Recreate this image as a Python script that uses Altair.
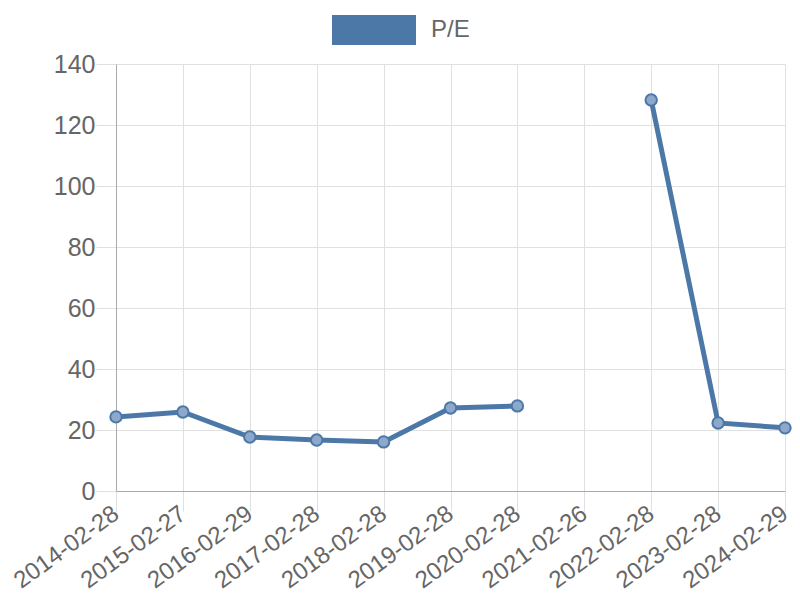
import altair as alt
import pandas as pd

dates = ["2014-02-28", "2015-02-27", "2016-02-29", "2017-02-28", "2018-02-28",
         "2019-02-28", "2020-02-28", "2021-02-26", "2022-02-28", "2023-02-28",
         "2024-02-29"]
pe = [24.3, 25.9, 17.7, 16.7, 16.1, 27.2, 27.9, None, 128.2, 22.3, 20.7]
series_name = "P/E"

seg = []
s = 0
for v in pe:
    if v is None:
        s += 1
    seg.append(s)

df = pd.DataFrame({"date": dates, "pe": pe, "seg": seg, "series": [series_name] * len(dates)})
df = df[df["pe"].notna()]

BLUE = "#4c78a8"
GRID = "#e0e0e0"
FONT = "Liberation Sans"

x_enc = alt.X("date:O", scale=alt.Scale(domain=dates, type="point", padding=0),
              axis=alt.Axis(title=None, labelAngle=-36, labelAlign="right", labelBaseline="middle",
                            labelFontSize=24, labelColor="#666", labelPadding=0, labelOffset=0,
                            grid=True, gridColor=GRID, tickColor=GRID, tickSize=20,
                            domainColor="#aaa", labelFont=FONT))
y_enc = alt.Y("pe:Q", scale=alt.Scale(domain=[0, 140], nice=False),
              axis=alt.Axis(title=None, values=[0, 20, 40, 60, 80, 100, 120, 140],
                            labelFontSize=25, labelColor="#666", labelPadding=1,
                            grid=True, gridColor=GRID, tickColor=GRID, tickSize=20,
                            domainColor="#aaa", labelFont=FONT))

line = alt.Chart(df).mark_line(strokeWidth=5).encode(
    x=x_enc, y=y_enc, detail="seg:N",
    color=alt.Color("series:N", scale=alt.Scale(range=[BLUE]),
                    legend=alt.Legend(title=None, orient="none", legendX=201, legendY=-91,
                                      symbolType="stroke", symbolSize=7056,
                                      symbolStrokeWidth=30, symbolOpacity=1,
                                      labelFontSize=24, labelColor="#666",
                                      labelFont=FONT, labelOffset=0,
                                      padding=0)),
)
points = alt.Chart(df).mark_point(shape="circle", filled=True, fill="#8ea8cb", stroke=BLUE,
                                  strokeWidth=2, size=130, opacity=1).encode(x=x_enc, y=y_enc)

chart = alt.layer(line, points).properties(
    width=669, height=427,
    padding={"left": 108, "top": 56, "right": 7, "bottom": 101},
    autosize=alt.AutoSizeParams(type="none"),
).configure_view(stroke=None)

chart.save("out.html", embed_options={"renderer": "svg", "actions": False})
